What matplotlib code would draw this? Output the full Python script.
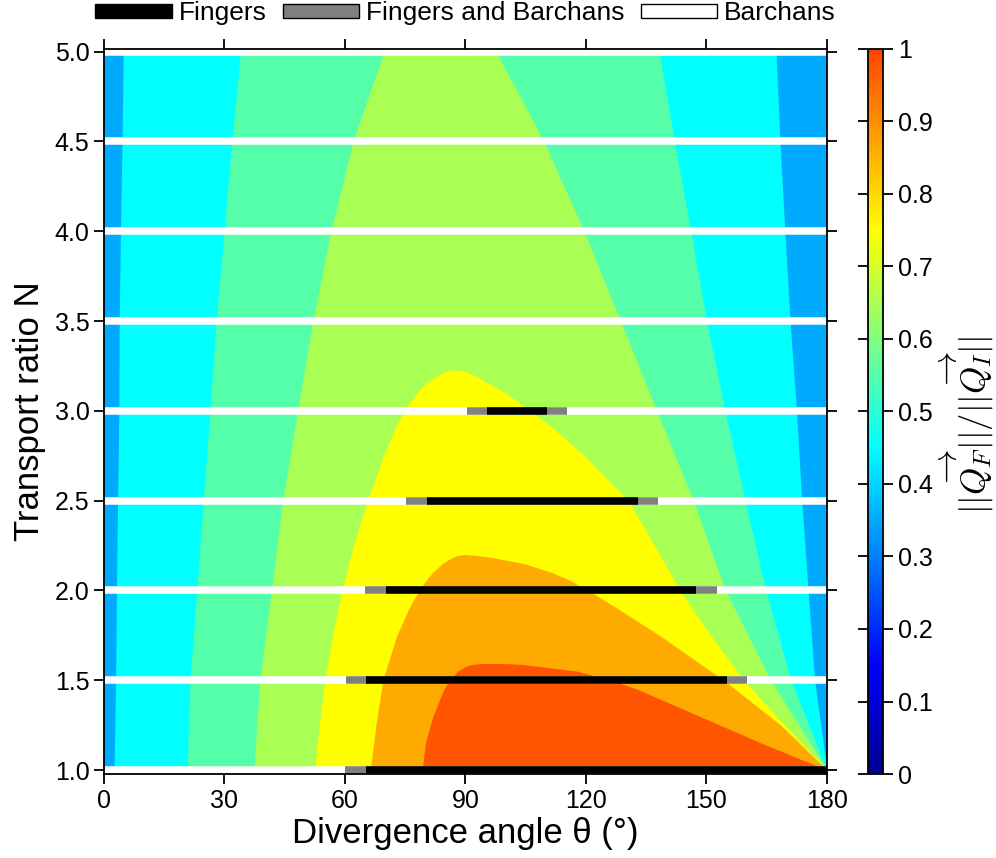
import numpy as np
import matplotlib
matplotlib.use('Agg')
import matplotlib.pyplot as plt
from matplotlib.colors import LinearSegmentedColormap, Normalize
from matplotlib.cm import ScalarMappable
from matplotlib.patches import Patch

plt.rcParams['font.family'] = ['Liberation Sans', 'DejaVu Sans']
plt.rcParams['mathtext.fontset'] = 'cm'

# --- contour bands of ||Q_F||/||Q_I||, boundaries ---
# open bands (reach the top of the plot): left / right boundary theta at each N
n_full = [1.0, 1.5, 2.0, 2.5, 3.0, 3.5, 4.0, 4.5, 5.0]
cyan_left = [2.5, 2.9, 3.1, 3.4, 3.7, 3.8, 4.1, 4.5, 4.8]
cyan_right = [180.0, 176.9, 175.3, 173.7, 172.4, 170.8, 169.5, 168.3, 167.3]
aqua_left = [20.7, 21.4, 23.1, 24.7, 26.4, 27.9, 29.9, 31.8, 34.0]
aqua_right = [180.0, 171.0, 164.8, 159.6, 154.6, 150.0, 146.1, 142.0, 138.2]
lime_left = [37.3, 38.8, 41.7, 44.5, 48.2, 52.0, 56.5, 62.0, 69.7]
lime_right = [180.0, 166.0, 154.7, 146.7, 137.6, 128.6, 119.5, 109.5, 97.6]

# closed bands (tongues ending at a peak)
yellow_n = [1.0, 1.25, 1.5, 1.75, 2.0, 2.25, 2.5, 2.75, 2.9, 3.0, 3.1, 3.15, 3.2, 3.22, 3.228]
yellow_left = [52.5, 53.6, 55.0, 56.9, 59.2, 62.1, 65.6, 69.6, 72.4, 74.6, 77.9, 80.0, 83.2, 85.2, 87.4]
yellow_right = [180.0, 169.4, 159.3, 151.0, 143.4, 137.0, 130.5, 119.6, 112.0, 106.2, 99.9, 96.0, 92.0, 89.9, 87.4]

orange_n = [1.0, 1.25, 1.5, 1.75, 1.9, 2.0, 2.06, 2.1, 2.15, 2.18, 2.195, 2.2]
orange_left = [66.3, 67.7, 69.4, 72.9, 75.9, 78.4, 80.3, 81.8, 84.2, 86.4, 88.0, 89.8]
orange_right = [180.0, 168.5, 154.3, 138.3, 127.8, 120.6, 115.7, 111.5, 104.5, 97.5, 93.0, 89.8]

red_n = [1.0, 1.15, 1.3, 1.45, 1.5, 1.55, 1.575, 1.588, 1.593]
red_left = [79.2, 80.0, 81.9, 84.6, 86.0, 88.0, 89.8, 91.5, 94.0]
red_right = [180.0, 163.7, 148.2, 132.8, 126.2, 118.0, 109.0, 104.0, 100.0]

# --- dune modes along each N (theta ranges) ---
line_n = [1.0, 1.5, 2.0, 2.5, 3.0, 3.5, 4.0, 4.5, 5.0]
mixed_lo = [60.0, 60.2, 65.0, 75.3, 90.4, np.nan, np.nan, np.nan, np.nan]
fingers_lo = [65.2, 65.2, 70.1, 80.3, 95.4, np.nan, np.nan, np.nan, np.nan]
fingers_hi = [180.0, 155.0, 147.3, 132.9, 110.3, np.nan, np.nan, np.nan, np.nan]
mixed_hi = [180.0, 160.0, 152.5, 138.0, 115.3, np.nan, np.nan, np.nan, np.nan]

legend_labels = ['Fingers', 'Fingers and Barchans', 'Barchans']
cbar_ticks = [0, 0.1, 0.2, 0.3, 0.4, 0.5, 0.6, 0.7, 0.8, 0.9, 1.0]
cbar_labels = ['0', '0.1', '0.2', '0.3', '0.4', '0.5', '0.6', '0.7', '0.8', '0.9', '1']

fig = plt.figure(figsize=(9.96, 8.58), dpi=100)
ax = fig.add_axes([0.1044, 0.0979, 0.7259, 0.8450])

# background band (0.3-0.4) then nested bands
ax.fill_betweenx([1.0, 5.0], [0, 0], [180, 180], color='#00AAFF', lw=0, zorder=1)
bands = [
    (n_full, cyan_left, cyan_right, '#00FFFF'),
    (n_full, aqua_left, aqua_right, '#55FFAA'),
    (n_full, lime_left, lime_right, '#AAFF55'),
    (yellow_n, yellow_left, yellow_right, '#FFFF00'),
    (orange_n, orange_left, orange_right, '#FFAA00'),
    (red_n, red_left, red_right, '#FF5500'),
]
for nn, lo, hi, col in bands:
    ax.fill_betweenx(nn, lo, hi, color=col, lw=0, zorder=1)

lw_mode = 5.4
for i, n in enumerate(line_n):
    ax.plot([0, 180], [n, n], color='white', lw=lw_mode, solid_capstyle='butt', zorder=3)
    if not np.isnan(mixed_lo[i]):
        ax.plot([mixed_lo[i], mixed_hi[i]], [n, n], color='#808080', lw=lw_mode,
                solid_capstyle='butt', zorder=4)
        ax.plot([fingers_lo[i], fingers_hi[i]], [n, n], color='black', lw=lw_mode,
                solid_capstyle='butt', zorder=5)

ax.set_xlim(0, 180)
ax.set_ylim(0.978, 5.015)
ax.set_xticks(range(0, 181, 30))
ax.set_yticks(line_n)
ax.set_yticklabels(['%.1f' % v for v in line_n])
ax.tick_params(direction='out', length=7, width=1.3, labelsize=18,
               top=True, right=True, labeltop=False, labelright=False)
for s in ax.spines.values():
    s.set_linewidth(1.3)
    s.set_zorder(6)
ax.set_xlabel('Divergence angle θ (°)', fontsize=25, labelpad=3)
ax.set_ylabel('Transport ratio N', fontsize=25, labelpad=6)

handles = [Patch(facecolor='black', edgecolor='black'),
           Patch(facecolor='#808080', edgecolor='black'),
           Patch(facecolor='white', edgecolor='black')]
ax.legend(handles, legend_labels, loc='center', bbox_to_anchor=(0.5, 1.049), ncol=3,
          frameon=False, fontsize=19, handlelength=2.9, handleheight=0.4,
          handletextpad=0.25, columnspacing=0.62, borderaxespad=0, borderpad=0)

# colorbar
cbar_cmap = LinearSegmentedColormap.from_list(
    'jetlike', [(0.0, '#000090'), (0.15, '#0000FF'), (0.45, '#00FFFF'),
                (0.75, '#FFFF00'), (1.0, '#FF4400')])
cax = fig.add_axes([0.8715, 0.0979, 0.0151, 0.8450])
cb = fig.colorbar(ScalarMappable(norm=Normalize(0, 1), cmap=cbar_cmap), cax=cax,
                  ticks=cbar_ticks)
cb.ax.set_yticklabels(cbar_labels)
cb.ax.tick_params(direction='out', length=7, width=1.3, labelsize=18,
                  left=True, right=True)
cb.outline.set_linewidth(1.3)
fig.text(0.971, 0.505, r'$||\overrightarrow{Q_F}||/||\overrightarrow{Q_I}||$',
         rotation=90, ha='center', va='center', fontsize=25)

fig.savefig('out.png', dpi=100)
